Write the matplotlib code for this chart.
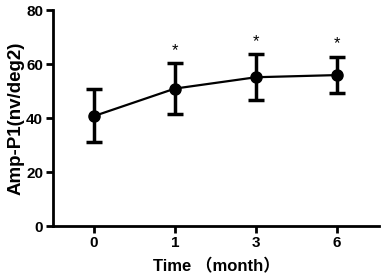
import matplotlib
matplotlib.use("Agg")
import matplotlib.pyplot as plt
import numpy as np

# data
months = ["0", "1", "3", "6"]
amp_mean = [40.7, 50.9, 55.1, 55.9]
err_upper = [50.6, 60.2, 63.6, 62.7]
err_lower = [31.1, 41.4, 46.7, 49.1]
signif = ["", "*", "*", "*"]

plt.rcParams['font.family'] = ['Liberation Sans', 'Noto Sans CJK SC']
plt.rcParams['font.weight'] = 'bold'

fig = plt.figure(figsize=(3.83, 2.78), dpi=100)
ax = fig.add_axes([0.138, 0.187, 0.852, 0.777])

x = np.arange(len(months))
mean = np.array(amp_mean)
yerr = [mean - np.array(err_lower), np.array(err_upper) - mean]
ax.errorbar(x, mean, yerr=yerr, color='black', lw=1.6, elinewidth=2.5,
            capsize=6, capthick=2.5, marker='o', markersize=8)

for xi, top, s in zip(x, err_upper, signif):
    if s:
        ax.text(xi, top + 2.0, s, ha='center', va='bottom', fontsize=12,
                fontweight='normal')

ax.set_xlim(-0.506, 3.52)
ax.set_ylim(0, 80)
ax.set_xticks(x)
ax.set_xticklabels(months)
ax.set_yticks([0, 20, 40, 60, 80])

for side in ['top', 'right']:
    ax.spines[side].set_visible(False)
for side in ['left', 'bottom']:
    ax.spines[side].set_linewidth(2)
ax.tick_params(width=2, length=5, labelsize=11, pad=2)

ax.set_ylabel("Amp-P1(nv/deg2)", fontsize=13.5, fontweight='bold', labelpad=1)
ax.set_xlabel("Time （month）", fontsize=12, fontweight='bold', labelpad=6)

fig.savefig("out.png", dpi=100)
